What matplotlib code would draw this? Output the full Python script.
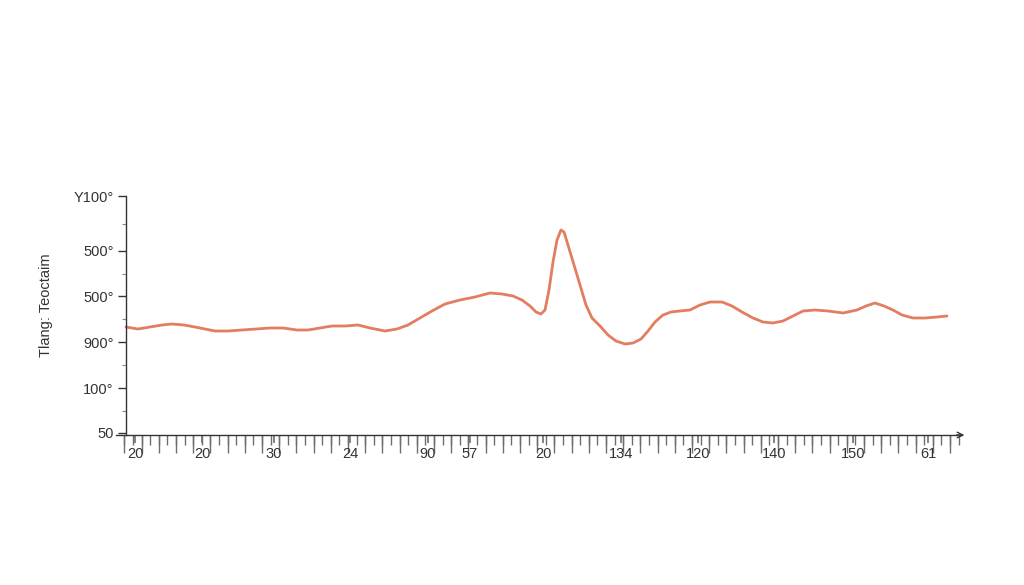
import matplotlib.pyplot as plt
from matplotlib.ticker import MultipleLocator, FixedLocator

plt.rcParams['font.family'] = ['Liberation Sans', 'DejaVu Sans']

# curve (x, y in plot units)
x_vals = [0, 12, 24, 36, 46, 58, 69, 79, 89, 102, 116, 130, 144, 157, 171, 182, 194, 206, 219, 232,
          244, 259, 271, 282, 294, 306, 319, 334, 349, 364, 376, 387, 396, 404, 410, 415, 419, 423, 427, 431,
          435, 438, 442, 448, 454, 460, 466, 474, 482, 490, 499, 507, 515, 522, 529, 537, 545, 554, 564, 574,
          584, 596, 606, 616, 627, 637, 647, 657, 667, 677, 689, 702, 717, 731, 740, 749, 758, 767, 776, 787,
          799, 811, 821]
y_vals = [108, 106, 108, 110, 111, 110, 108, 106, 104, 104, 105, 106, 107, 107, 105, 105, 107, 109, 109, 110,
          107, 104, 106, 110, 117, 124, 131, 135, 138, 142, 141, 139, 135, 129, 123, 121, 125, 145, 173, 195,
          205, 203, 190, 170, 150, 130, 117, 109, 100, 94, 91, 92, 96, 104, 113, 120, 123, 124, 125, 130,
          133, 133, 129, 123, 117, 113, 112, 114, 119, 124, 125, 124, 122, 125, 129, 132, 129, 125, 120, 117,
          117, 118, 119]

y_tick_pos = [2, 47, 93, 139, 184, 239]
y_tick_labels = ['50', '100°', '900°', '500°', '500°', 'Y100°']
x_tick_pos = [9, 76, 148, 224, 302, 344, 417, 495, 572, 648, 727, 802]
x_tick_labels = ['20', '20', '30', '24', '90', '57', '20', '134', '120', '140', '150', '61']
y_label = 'Tlang: Teoctaim'

ink = '#333333'
tick_grey = '#6e6e6e'
line_color = '#E27D60'

fig = plt.figure(figsize=(10.24, 5.85), dpi=100)
ax = fig.add_axes([116 / 1024, 1 - 435 / 585, (962 - 116) / 1024, (435 - 196) / 585])

ax.plot(x_vals, y_vals, color=line_color, linewidth=2.0, solid_joinstyle='round',
        solid_capstyle='round')

ax.set_xlim(-10, 836)
ax.set_ylim(0, 239)

for side in ['top', 'right']:
    ax.spines[side].set_visible(False)
ax.spines['left'].set_position(('data', 0))
for side in ['left', 'bottom']:
    ax.spines[side].set_color(ink)
    ax.spines[side].set_linewidth(1.0)

ax.set_yticks(y_tick_pos)
ax.set_yticklabels(y_tick_labels)
ax.yaxis.set_minor_locator(FixedLocator([(a + b) / 2 for a, b in zip(y_tick_pos[:-1], y_tick_pos[1:])]))
ax.tick_params(axis='y', which='major', length=6, width=1, color=ink, labelcolor=ink,
               labelsize=10.5, pad=3)
ax.tick_params(axis='y', which='minor', length=3, width=0.8, color='#888888')

ax.set_xticks(x_tick_pos)
ax.set_xticklabels(x_tick_labels)
ax.xaxis.set_minor_locator(MultipleLocator(8.6, offset=7))
ax.tick_params(axis='x', which='major', length=6, width=1.2, color=tick_grey, labelcolor=ink,
               labelsize=10.5, pad=2.5)
ax.tick_params(axis='x', which='minor', length=7, width=1.0, color=tick_grey)

# longer ruler ticks
sec = ax.secondary_xaxis('bottom')
sec.xaxis.set_major_locator(MultipleLocator(17.2, offset=7 + 8.6))
sec.tick_params(axis='x', length=13, width=1.0, color=tick_grey, labelbottom=False)
sec.spines['bottom'].set_visible(False)

ax.annotate('', xy=(1.006, 0), xytext=(0.99, 0), xycoords='axes fraction',
            arrowprops=dict(arrowstyle='->', color=ink, lw=1.0))

fig.text(46 / 1024, 1 - 305 / 585, y_label, rotation=90, ha='center', va='center',
         fontsize=10.5, color=ink)

fig.savefig('out.png', dpi=100, facecolor='white')
